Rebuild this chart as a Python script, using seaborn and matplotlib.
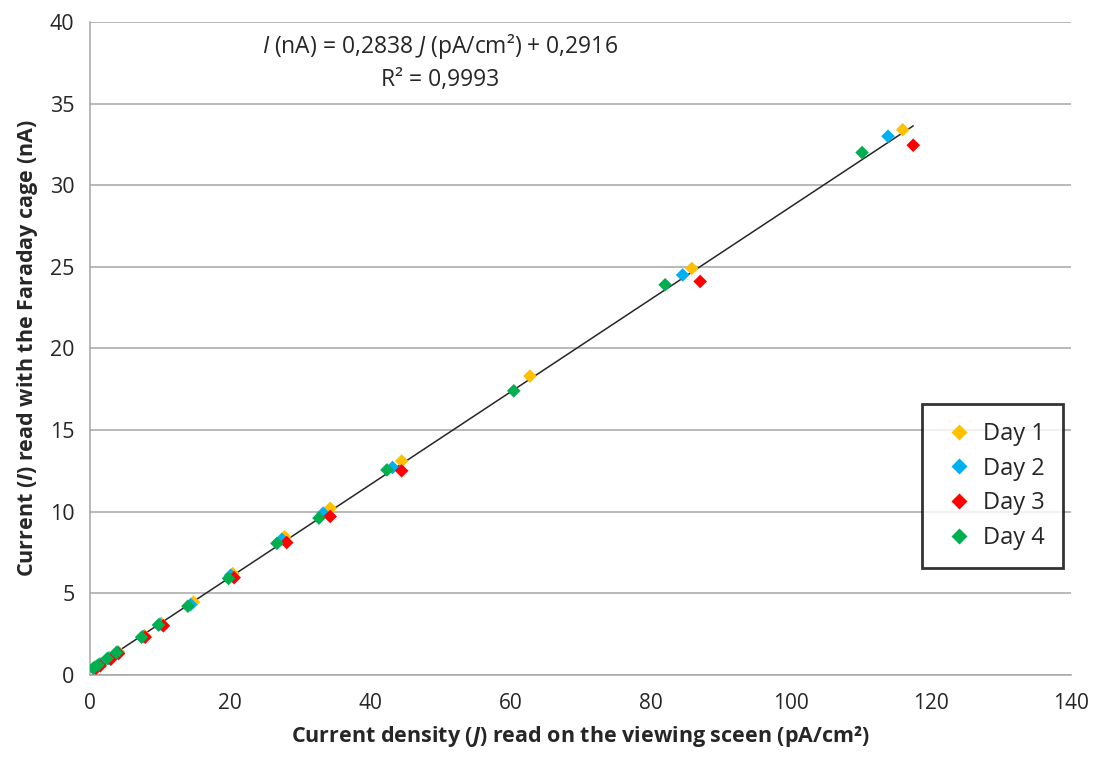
import matplotlib
matplotlib.use("Agg")
import matplotlib.pyplot as plt
import seaborn as sns
import pandas as pd
import numpy as np

# data
day1_x = [0.8, 1.6, 2.8, 4.1, 7.8, 10.2, 14.8, 20.4, 27.8, 34.3, 44.5, 62.8, 85.9, 116.0]
day1_y = [0.5, 0.7, 1.05, 1.4, 2.4, 3.15, 4.45, 6.2, 8.45, 10.2, 13.1, 18.3, 24.9, 33.4]
day2_x = [0.7, 1.4, 2.7, 3.9, 7.6, 10.0, 14.4, 20.1, 27.4, 33.3, 43.2, 84.6, 113.9]
day2_y = [0.45, 0.65, 1.0, 1.4, 2.35, 3.1, 4.3, 6.1, 8.3, 9.9, 12.7, 24.5, 33.0]
day3_x = [0.9, 1.5, 3.0, 4.1, 7.9, 10.5, 20.6, 28.1, 34.3, 44.5, 87.1, 117.5]
day3_y = [0.4, 0.55, 0.95, 1.3, 2.3, 3.0, 5.95, 8.1, 9.7, 12.5, 24.1, 32.45]
day4_x = [0.5, 1.2, 2.5, 3.8, 7.4, 9.8, 14.0, 19.8, 26.7, 32.7, 42.4, 60.5, 82.1, 110.2]
day4_y = [0.4, 0.6, 1.0, 1.35, 2.3, 3.05, 4.2, 5.9, 8.05, 9.6, 12.55, 17.4, 23.9, 32.0]
days = ["Day 1", "Day 2", "Day 3", "Day 4"]
colors = ["#FFC000", "#00B0F0", "#FF0000", "#00B050"]

SLOPE = 0.2838
INTERCEPT = 0.2916

frames = []
for d, xs, ys in zip(days, [day1_x, day2_x, day3_x, day4_x], [day1_y, day2_y, day3_y, day4_y]):
    frames.append(pd.DataFrame({"J": xs, "I": ys, "Day": d}))
df = pd.concat(frames, ignore_index=True)

sns.set_style("white")
plt.rcParams["font.family"] = ["Open Sans", "DejaVu Sans"]
plt.rcParams["mathtext.fontset"] = "custom"
plt.rcParams["mathtext.rm"] = "Open Sans"
plt.rcParams["mathtext.it"] = "Open Sans:italic"
plt.rcParams["mathtext.bf"] = "Open Sans:bold"
plt.rcParams["mathtext.bfit"] = "Open Sans:italic:bold"

fig = plt.figure(figsize=(10.95, 7.59), dpi=100)
ax = fig.add_axes([0.082, 0.111, 0.896, 0.86])

# fitted line over the data range
line_x = np.array([df["J"].min(), df["J"].max()])
ax.plot(line_x, SLOPE * line_x + INTERCEPT, color="#262626", lw=1.1, zorder=2)

sns.scatterplot(data=df, x="J", y="I", hue="Day", hue_order=days, palette=colors,
                marker="D", s=48, edgecolor="none", ax=ax, zorder=3)

ax.set_xlim(0, 140)
ax.set_ylim(0, 40)
ax.set_xticks(range(0, 141, 20))
ax.set_yticks(range(0, 41, 5))
ax.yaxis.grid(True, color="#a6a6a6", lw=1.1)
ax.set_axisbelow(True)
for s in ["top", "right"]:
    ax.spines[s].set_visible(False)
for s in ["left", "bottom"]:
    ax.spines[s].set_color("#a6a6a6")
    ax.spines[s].set_linewidth(1.1)
ax.tick_params(axis="both", direction="out", length=6, color="#a6a6a6", width=1.1)
ax.tick_params(axis="x", labelsize=15, pad=7)
ax.tick_params(axis="y", labelsize=15.5, pad=5)

ax.set_xlabel(r"Current density ($\mathbfit{J}$) read on the viewing sceen (pA/cm²)",
              fontsize=15.5, fontweight="bold", labelpad=7)
ax.set_ylabel(r"Current ($\mathbfit{I}$) read with the Faraday cage (nA)",
              fontsize=15.5, fontweight="bold", labelpad=7)

ax.text(0.357, 0.962, r"$\it{I}$ (nA) = 0,2838 $\it{J}$ (pA/cm²) + 0,2916",
        transform=ax.transAxes, ha="center", va="center", fontsize=16.5)
ax.text(0.357, 0.911, "R² = 0,9993", transform=ax.transAxes,
        ha="center", va="center", fontsize=16.5)

leg = ax.legend(loc="lower right", bbox_to_anchor=(0.992, 0.164), borderaxespad=0,
                fontsize=17, frameon=True, fancybox=False, edgecolor="black",
                handletextpad=0.25, borderpad=0.75, labelspacing=0.45,
                markerscale=1.15, handlelength=1.6)
leg.get_frame().set_linewidth(2)
leg.set_title(None)

fig.savefig("out.png", dpi=100)
